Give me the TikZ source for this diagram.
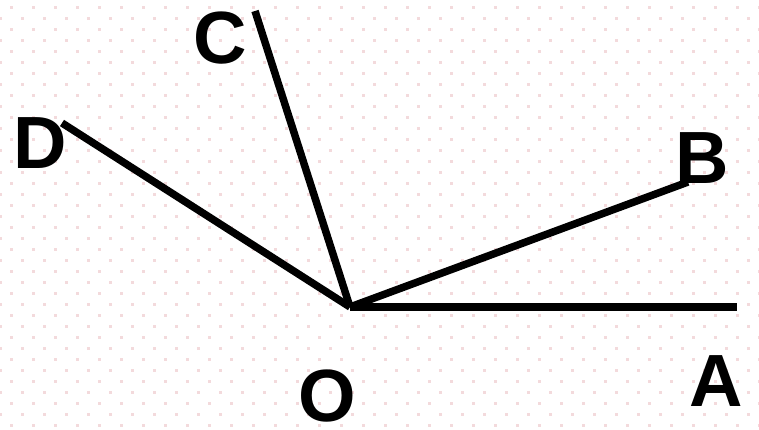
\documentclass[tikz,border=0pt]{standalone}
\usepackage{fontspec}
\setmainfont{Liberation Sans}
\begin{document}
\begin{tikzpicture}[x=1pt,y=-1pt,
  ray/.style={line width=7.5pt,black},
  lbl/.style={anchor=base,inner sep=0pt,font=\fontsize{74}{74}\selectfont\bfseries},
  dotc/.style={fill=dotpink}]
\definecolor{dotpink}{RGB}{243,218,220}
\useasboundingbox (0,0) rectangle (759,429);
\fill[white] (0,0) rectangle (759,429);
% dotted background
\foreach \r in {0,...,38}{
  \pgfmathsetmacro{\yy}{7+11*\r}
  \pgfmathsetmacro{\off}{mod(\r,2)==0 ? 11 : 0}
  \foreach \c in {0,...,35}{
    \fill[dotpink] ({\off+22*\c-1.5},{\yy-1.5}) rectangle ++(3,3);
  }
}
\coordinate (O) at (350,307);
\coordinate (A) at (737,307);
\coordinate (B) at (688,182);
\coordinate (C) at (255,11);
\coordinate (D) at (62,123);
\draw[ray] (O) -- (A);
\draw[ray] (O) -- (B);
\draw[ray] (O) -- (C);
\draw[ray] (O) -- (D);
\node[lbl] (lC) at (220,63) {C};
\node[lbl] (lD) at (40.5,168) {D};
\node[lbl] (lB) at (702,183) {B};
\node[lbl] (lO) at (327.5,421) {O};
\node[lbl] (lA) at (716.5,406) {A};
\end{tikzpicture}
\end{document}
